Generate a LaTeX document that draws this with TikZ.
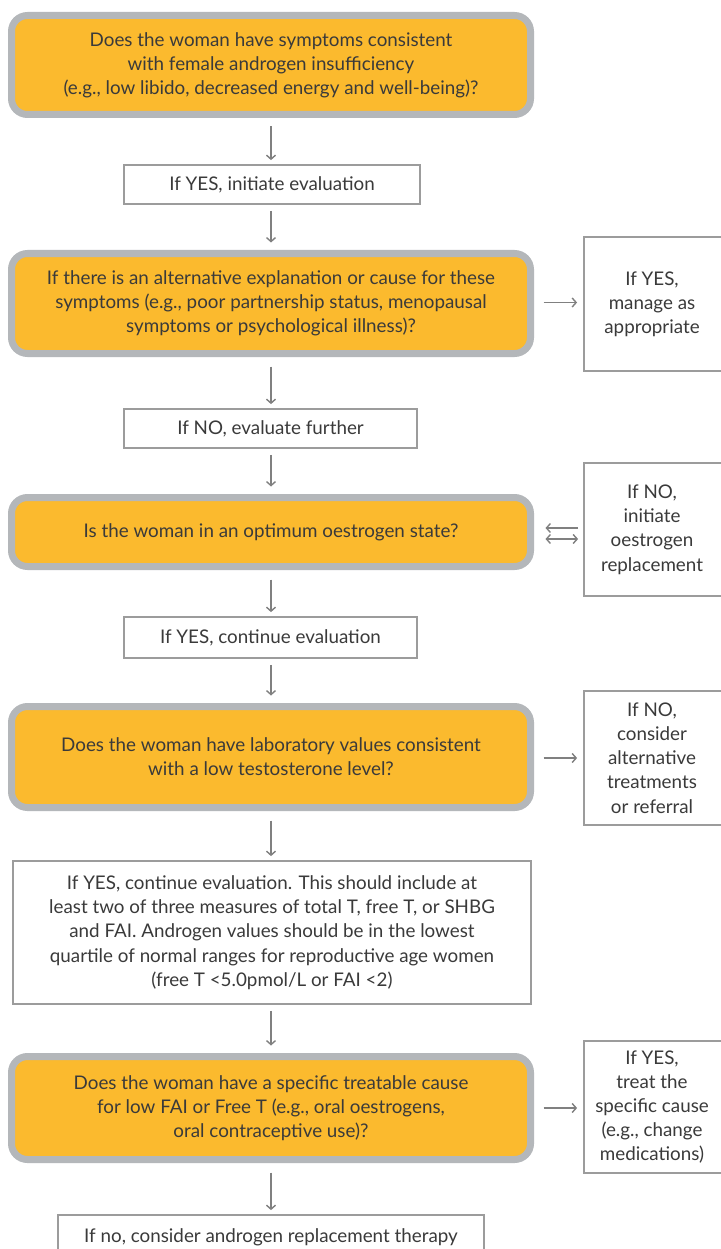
\documentclass[tikz,border=0pt]{standalone}
\usepackage{fontspec}
\setmainfont{Lato}
\usetikzlibrary{arrows.meta,calc}
\definecolor{orfill}{HTML}{FBBA2E}
\definecolor{orline}{HTML}{B4B7BA}
\definecolor{wline}{HTML}{9C9C9C}
\definecolor{txt}{HTML}{3A3A3A}
\definecolor{arr}{HTML}{808080}
\begin{document}
\begin{tikzpicture}[x=1pt,y=-1pt,
  every node/.style={font=\fontsize{18.8}{24.2}\selectfont, text=txt, align=center, inner sep=0pt},
  qbox/.style={draw=orline, line width=7pt, fill=orfill, rounded corners=16pt, minimum width=519pt},
  wbox/.style={draw=wline, line width=1.8pt, fill=white},
  rbox/.style={draw=wline, line width=1.8pt, fill=white, minimum width=142pt},
  conn/.style={draw=arr, line width=1.5pt, -{Straight Barb[length=4pt,width=9pt,line width=1.4pt]}},
  dconn/.style={draw=arr, line width=1.5pt, {Straight Barb[length=4pt,width=9pt,line width=1.4pt]}-{Straight Barb[length=4pt,width=9pt,line width=1.4pt]}},
]
\useasboundingbox (0,0) rectangle (720,1249);
\fill[white] (0,0) rectangle (720,1249);

% orange question boxes
\node[qbox, minimum height=99pt] (o1) at (271,65) {Does the woman have symptoms consistent\\with female androgen insufficiency\\(e.g., low libido, decreased energy and well-being)?};
\node[qbox, minimum height=100pt] (o2) at (271,303.5) {If there is an alternative explanation or cause for these\\symptoms (e.g., poor partnership status, menopausal\\symptoms or psychological illness)?};
\node[qbox, minimum height=69pt] (o3) at (271,532) {Is the woman in an optimum oestrogen state?};
\node[qbox, minimum height=101pt] (o4) at (271,757) {Does the woman have laboratory values consistent\\with a low testosterone level?};
\node[qbox, minimum height=103pt] (o5) at (271,1108) {Does the woman have a specific treatable cause\\for low FAI or Free T (e.g., oral oestrogens,\\oral contraceptive use)?};

% white step boxes
\node[wbox, minimum width=296pt, minimum height=39pt] (w1) at (272,184.5) {If YES, initiate evaluation};
\node[wbox, minimum width=293pt, minimum height=39pt] (w2) at (270.5,428.5) {If NO, evaluate further};
\node[wbox, minimum width=293pt, minimum height=41pt] (w3) at (270.5,637.5) {If YES, continue evaluation};
\node[wbox, minimum width=518pt, minimum height=143pt] (w4) at (272,932.5) {If YES, continue evaluation. This should include at\\least two of three measures of total T, free T, or SHBG\\and FAI. Androgen values should be in the lowest\\quartile of normal ranges for reproductive age women\\(free T <5.0pmol/L or FAI <2)};
\node[wbox, minimum width=426pt, minimum height=44pt] (w5) at (271,1237) {\raisebox{1pt}{If no, consider androgen replacement therapy}};

% right side boxes
\node[rbox, minimum height=134pt] (r1) at (655,304) {\hspace*{-6pt}If YES,\\\hspace*{-6pt}manage as\\\hspace*{-6pt}appropriate};
\node[rbox, minimum height=133pt] (r2) at (655,529.5) {\hspace*{-6pt}If NO,\\\hspace*{-6pt}initiate\\\hspace*{-6pt}oestrogen\\\hspace*{-6pt}replacement};
\node[rbox, minimum height=134pt] (r3) at (655,758) {\hspace*{-6pt}If NO,\\\hspace*{-6pt}consider\\\hspace*{-6pt}alternative\\\hspace*{-6pt}treatments\\\hspace*{-6pt}or referral};
\node[rbox, minimum height=132pt] (r4) at (655,1107) {\hspace*{-6pt}If YES,\\\hspace*{-6pt}treat the\\\hspace*{-6pt}specific cause\\\hspace*{-6pt}(e.g., change\\\hspace*{-6pt}medications)};

% vertical connectors
\draw[conn, shorten <=5pt, shorten >=4pt] (o1.south -| 271,0) ++(0,3.5) coordinate (a1) (a1) -- (a1 |- w1.north);
\draw[conn, shorten <=6pt, shorten >=4pt] (w1.south -| 271,0) coordinate (a2) -- ($(a2 |- o2.north)+(0,-3.5)$);
\draw[conn, shorten <=6pt, shorten >=4pt] (o2.south -| 271,0) ++(0,3.5) coordinate (a3) (a3) -- (a3 |- w2.north);
\draw[conn, shorten <=6pt, shorten >=4pt] (w2.south -| 271,0) coordinate (a4) -- ($(a4 |- o3.north)+(0,-3.5)$);
\draw[conn, shorten <=6pt, shorten >=4pt] (o3.south -| 271,0) ++(0,3.5) coordinate (a5) (a5) -- (a5 |- w3.north);
\draw[conn, shorten <=6pt, shorten >=4pt] (w3.south -| 271,0) coordinate (a6) -- ($(a6 |- o4.north)+(0,-3.5)$);
\draw[conn, shorten <=6pt, shorten >=4pt] (o4.south -| 271,0) ++(0,3.5) coordinate (a7) (a7) -- (a7 |- w4.north);
\draw[conn, shorten <=6pt, shorten >=4pt] (w4.south -| 271,0) coordinate (a8) -- ($(a8 |- o5.north)+(0,-3.5)$);
\draw[conn, shorten <=6pt, shorten >=4pt] (o5.south -| 271,0) ++(0,3.5) coordinate (a9) (a9) -- (a9 |- w5.north);

% horizontal connectors
\draw[conn, shorten <=6pt, shorten >=6pt] ($(o2.east)+(3.5,-1)$) -- ($(r1.west |- o2.east)+(0,-1)$);
\draw[conn, shorten <=6pt, shorten >=6pt] ($(o4.east)+(3.5,1)$) -- ($(r3.west |- o4.east)+(0,1)$);
\draw[conn, shorten <=6pt, shorten >=6pt] ($(o5.east)+(3.5,0)$) -- (r4.west |- o5.east);
\draw[conn, shorten <=5pt, shorten >=8pt] ($(r2.west |- o3.east)+(0,-4)$) -- ($(o3.east)+(3.5,-4)$);
\draw[dconn, shorten <=8pt, shorten >=5pt] ($(o3.east)+(3.5,7)$) -- ($(r2.west |- o3.east)+(0,7)$);
\end{tikzpicture}
\end{document}
